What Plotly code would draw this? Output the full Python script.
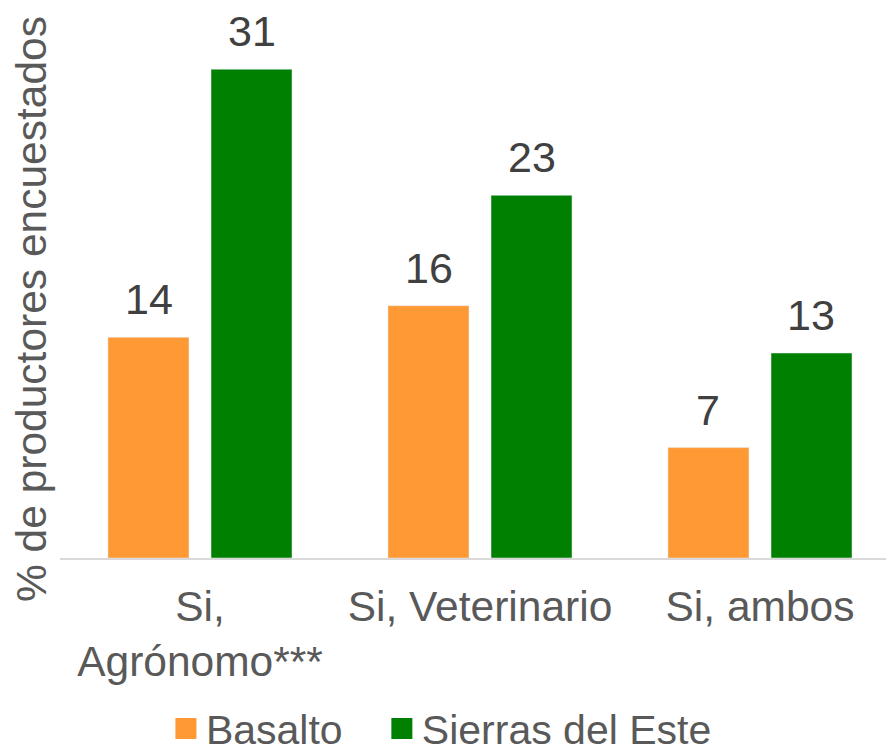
import plotly.graph_objects as go

# Data
categories = ['Si,<br>Agrónomo***', 'Si, Veterinario', 'Si, ambos']
basalto = [14, 16, 7]
sierras = [31, 23, 13]
series_names = ['Basalto', 'Sierras del Este']

ORANGE = '#FF9933'
GREEN = '#008000'
FONT = 'Liberation Sans, Arial, sans-serif'
NBSP = '\u00a0'

fig = go.Figure()
for name, values, color, pad in [(series_names[0], basalto, ORANGE, 3),
                                 (series_names[1], sierras, GREEN, 0)]:
    fig.add_trace(go.Bar(x=categories, y=values, name=name, marker_color=color,
                         showlegend=False))
    # legend-only entry so the square swatch can be larger; padded to space the items
    fig.add_trace(go.Scatter(x=[None], y=[None], mode='markers', name=name + NBSP * pad,
                             marker=dict(symbol='square', size=16, color=color,
                                         line=dict(width=5, color=color))))

# value labels above each bar (offset half a bar slot to each side of the group centre)
labels = []
for values, shift in [(basalto, -51.5), (sierras, 51.5)]:
    for cat, v in zip(categories, values):
        labels.append(dict(x=cat, y=v, text=str(v), xshift=shift, yshift=12,
                           xanchor='center', yanchor='bottom', showarrow=False,
                           font=dict(size=43, color='#404040')))

labels.append(dict(text='% de productores encuestados', textangle=-90,
                   xref='paper', yref='paper', x=0, y=0.4577, xshift=-29,
                   xanchor='center', yanchor='middle', showarrow=False,
                   font=dict(size=42.5, color='#595959')))

# page body has an 8px margin, so the figure is 8px smaller than the window
fig.update_layout(
    width=886, height=739,
    margin=dict(l=52, r=0, t=6, b=189, autoexpand=False),
    plot_bgcolor='white', paper_bgcolor='white',
    font=dict(family=FONT, color='#595959', size=42),
    barmode='group', bargap=0.264, bargroupgap=0.214,
    legend=dict(orientation='h', x=0.127, xanchor='left', y=-0.314, yanchor='middle',
                font=dict(size=41, color='#595959'), itemwidth=30),
    annotations=labels,
)
fig.update_xaxes(range=[-0.5, 2.4786], showline=True, linecolor='#D9D9D9', linewidth=2,
                 ticks='', automargin=False, ticklabelstandoff=10,
                 tickfont=dict(size=42.5, color='#595959'))
fig.update_yaxes(range=[0, 34.5], visible=False, automargin=False)

fig.write_html('out.html')
